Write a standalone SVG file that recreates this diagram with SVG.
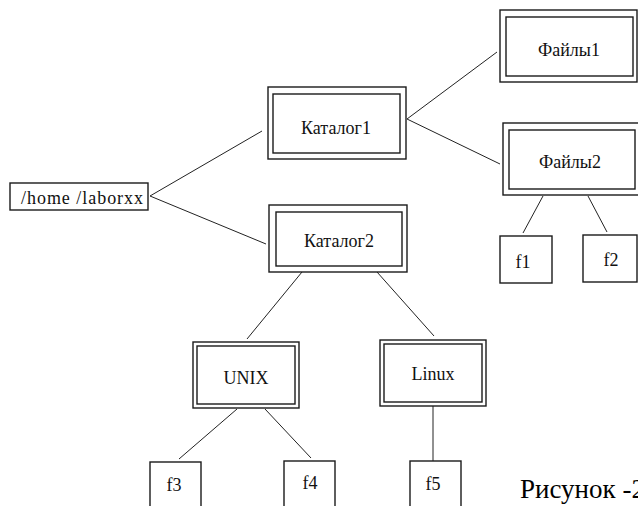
<svg xmlns="http://www.w3.org/2000/svg" width="638" height="506" viewBox="0 0 638 506">
<style>
.b{fill:none;stroke:#1a1a1a;stroke-width:1.4}
.c line{stroke:#222;stroke-width:1}
.t{font-family:"Liberation Serif","Times New Roman",serif;font-size:18px;fill:#111;text-anchor:middle}
.cap{font-family:"Liberation Serif","Times New Roman",serif;font-size:27px;fill:#000}
</style>
<rect width="638" height="506" fill="#fff"/>
<g id="connectors" class="c">
<line x1="150" y1="196" x2="262" y2="131"/>
<line x1="150" y1="196" x2="266" y2="244"/>
<line x1="407" y1="119" x2="497" y2="52"/>
<line x1="407" y1="119" x2="500" y2="164"/>
<line x1="302" y1="272" x2="247" y2="339"/>
<line x1="377" y1="272" x2="434" y2="336"/>
<line x1="433" y1="406" x2="433" y2="461"/>
<line x1="237" y1="409" x2="179" y2="459"/>
<line x1="265" y1="409" x2="311" y2="458"/>
<line x1="543" y1="196" x2="523" y2="233"/>
<line x1="588" y1="196" x2="607" y2="232"/>
</g>
<g id="home">
<rect class="b" x="10" y="183" width="138" height="27"/>
<text class="t" x="82" y="204" textLength="122" lengthAdjust="spacing">/home /laborxx</text>
</g>
<g id="katalog1">
<rect class="b" x="268" y="87" width="138" height="72"/>
<rect class="b" x="273" y="94" width="127" height="59"/>
<text class="t" x="336" y="134">Каталог1</text>
</g>
<g id="katalog2">
<rect class="b" x="269" y="205" width="138" height="67"/>
<rect class="b" x="276" y="212" width="126" height="54"/>
<text class="t" x="339" y="247">Каталог2</text>
</g>
<g id="faily1">
<rect class="b" x="500" y="10" width="137" height="72"/>
<rect class="b" x="506" y="17" width="127" height="59"/>
<text class="t" x="569" y="56">Файлы1</text>
</g>
<g id="faily2">
<rect class="b" x="503" y="123" width="136" height="72"/>
<rect class="b" x="509" y="130" width="126" height="59"/>
<text class="t" x="570" y="168">Файлы2</text>
</g>
<g id="f1">
<rect class="b" x="500" y="236" width="52" height="47"/>
<text class="t" x="523" y="268">f1</text>
</g>
<g id="f2">
<rect class="b" x="583" y="235" width="54" height="47"/>
<text class="t" x="611" y="266">f2</text>
</g>
<g id="unix">
<rect class="b" x="193" y="342" width="106" height="66"/>
<rect class="b" x="197" y="346" width="98" height="58"/>
<text class="t" x="246" y="384">UNIX</text>
</g>
<g id="linux">
<rect class="b" x="380" y="340" width="106" height="66"/>
<rect class="b" x="384" y="344" width="98" height="58"/>
<text class="t" x="433" y="380">Linux</text>
</g>
<g id="f3">
<rect class="b" x="150" y="462" width="51" height="50"/>
<text class="t" x="174" y="491">f3</text>
</g>
<g id="f4">
<rect class="b" x="284" y="461" width="51" height="50"/>
<text class="t" x="310" y="489">f4</text>
</g>
<g id="f5">
<rect class="b" x="410" y="461" width="51" height="50"/>
<text class="t" x="433" y="490">f5</text>
</g>
<text class="cap" x="520" y="498">Рисунок -2</text>
</svg>
